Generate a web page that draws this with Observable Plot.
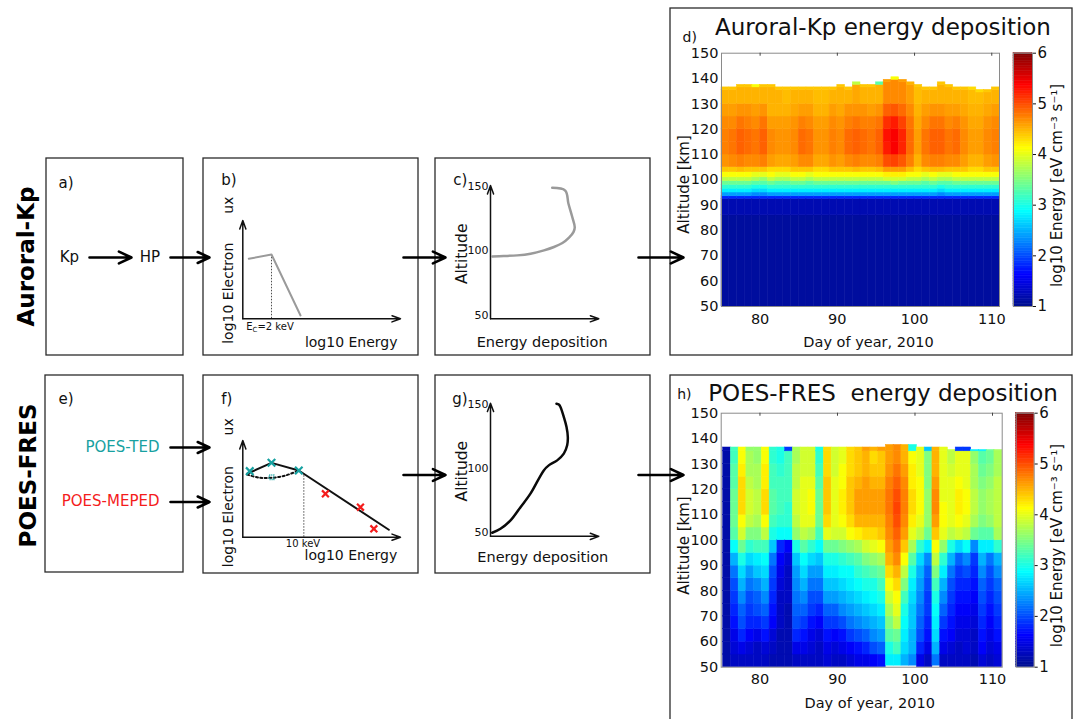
<!DOCTYPE html>
<html><head><meta charset="utf-8">
<script src="https://cdn.jsdelivr.net/npm/d3@7"></script>
<script src="https://cdn.jsdelivr.net/npm/@observablehq/plot@0.6"></script>
<style>
html,body{margin:0;padding:0;background:#fff;}
#fig{position:relative;width:1079px;height:719px;overflow:hidden;font-family:"DejaVu Sans",sans-serif;}
#fig svg{position:absolute;overflow:visible;max-width:none;}
</style></head><body><div id="fig"></div>
<script>
// ---------------- DATA ----------------
const days = [75,76,77,78,79,80,81,82,83,84,85,86,87,88,89,90,91,92,93,94,95,96,97,98,99,100,101,102,103,104,105,106,107,108,109,110];

// Panel d (Auroral-Kp) : altitude band edges, column tops, per-day band values (log10 energy)
const dEdges = [50,86,92.5,93.5,95,96.5,98,99.5,101,103,105,110,115,120,125,130]; // + [top-1, top]
const dTop = [136.5,136.5,137.5,137.5,137.5,137.5,137.5,136.5,136.5,136.5,136.5,136.5,136.5,136.5,136.5,137.5,136.5,138.5,137.5,137.5,138.5,139.5,140.5,139.5,138.5,137.5,136.5,136.5,138.5,137.5,136.5,136.5,136.5,135.5,135.5,136.5];
const dCols = [
[1.1,1.2,1.8,2.4,2.8,3.1,3.4,3.8,4.1,4.4,4.65,4.75,4.75,4.7,4.6,4.5,4.4],
[1.1,1.2,1.8,2.4,2.8,3.1,3.4,3.8,4.1,4.4,4.7,4.8,4.8,4.7,4.6,4.5,4.4],
[1.1,1.2,1.8,2.4,2.8,3.1,3.4,3.8,4.1,4.45,4.75,4.9,4.9,4.8,4.65,4.5,4.4],
[1.1,1.2,1.8,2.4,2.8,3.1,3.4,3.8,4.1,4.4,4.7,4.85,4.85,4.75,4.65,4.5,4.4],
[1.1,1.2,1.8,2.3,2.7,3.0,3.3,3.7,4.0,4.4,4.7,4.8,4.8,4.7,4.6,4.5,4.1],
[1.1,1.2,1.8,2.3,2.7,3.0,3.3,3.6,4.0,4.4,4.75,4.9,4.9,4.8,4.65,4.5,4.4],
[1.1,1.2,1.8,2.4,2.8,3.1,3.4,3.8,4.1,4.3,4.6,4.7,4.7,4.6,4.5,4.5,4.4],
[1.1,1.2,1.8,2.4,2.8,3.1,3.3,3.7,4.0,4.3,4.55,4.65,4.65,4.6,4.5,4.5,4.4],
[1.1,1.2,1.8,2.4,2.8,3.1,3.3,3.7,4.0,4.3,4.55,4.65,4.65,4.6,4.5,4.45,4.4],
[1.1,1.2,1.8,2.4,2.8,3.1,3.4,3.8,4.1,4.4,4.6,4.7,4.7,4.65,4.55,4.5,4.4],
[1.1,1.2,1.8,2.4,2.8,3.1,3.4,3.8,4.1,4.4,4.7,4.85,4.85,4.75,4.6,4.5,4.4],
[1.1,1.2,1.8,2.4,2.8,3.1,3.3,3.7,4.0,4.4,4.7,4.8,4.8,4.7,4.6,4.5,4.4],
[1.1,1.2,1.8,2.4,2.8,3.1,3.4,3.8,4.1,4.3,4.55,4.65,4.65,4.6,4.5,4.45,4.4],
[1.1,1.2,1.8,2.4,2.8,3.1,3.4,3.8,4.1,4.3,4.55,4.65,4.65,4.6,4.5,4.45,4.4],
[1.1,1.2,1.8,2.4,2.8,3.1,3.4,3.8,4.1,4.4,4.65,4.75,4.75,4.7,4.6,4.5,4.4],
[1.1,1.2,1.8,2.4,2.8,3.1,3.4,3.8,4.1,4.4,4.6,4.7,4.7,4.65,4.55,4.5,4.4],
[1.1,1.2,1.8,2.4,2.8,3.1,3.4,3.8,4.1,4.4,4.7,4.85,4.85,4.75,4.65,4.5,4.4],
[1.1,1.2,1.8,2.4,2.8,3.1,3.4,3.8,4.1,4.45,4.75,4.9,4.9,4.8,4.65,4.55,3.8],
[1.1,1.2,1.8,2.4,2.8,3.1,3.4,3.8,4.1,4.4,4.7,4.85,4.85,4.75,4.65,4.5,4.4],
[1.1,1.2,1.8,2.4,2.8,3.1,3.4,3.8,4.1,4.4,4.7,4.8,4.8,4.75,4.6,4.5,4.4],
[1.1,1.2,1.8,2.4,2.8,3.1,3.4,3.8,4.1,4.45,4.75,4.9,4.9,4.8,4.65,4.5,3.3],
[1.1,1.2,1.8,2.4,2.8,3.1,3.4,3.9,4.2,4.6,5.0,5.25,5.3,5.15,4.9,4.7,4.6],
[1.1,1.2,1.8,2.4,2.8,3.1,3.5,3.9,4.2,4.6,5.05,5.4,5.4,5.25,4.95,4.7,4.1],
[1.1,1.2,1.8,2.4,2.8,3.1,3.4,3.9,4.2,4.6,4.95,5.2,5.2,5.05,4.85,4.7,4.6],
[1.1,1.2,1.8,2.4,2.8,3.1,3.4,3.8,4.1,4.45,4.75,4.85,4.85,4.8,4.7,4.6,4.5],
[1.1,1.2,1.8,2.4,2.8,3.1,3.4,3.8,4.1,4.3,4.5,4.6,4.6,4.55,4.5,4.45,4.4],
[1.1,1.2,1.8,2.4,2.8,3.1,3.3,3.7,4.0,4.4,4.7,4.8,4.8,4.7,4.6,4.5,4.4],
[1.1,1.2,1.8,2.4,2.8,3.1,3.4,3.8,4.1,4.45,4.75,4.9,4.9,4.8,4.65,4.5,4.4],
[1.1,1.2,1.8,2.3,2.7,3.0,3.3,3.7,4.0,4.45,4.75,4.9,4.9,4.8,4.65,4.5,4.4],
[1.1,1.2,1.8,2.4,2.8,3.1,3.3,3.7,4.0,4.4,4.7,4.8,4.8,4.7,4.6,4.5,4.4],
[1.1,1.2,1.8,2.4,2.8,3.1,3.4,3.8,4.1,4.4,4.7,4.85,4.85,4.75,4.6,4.5,4.4],
[1.1,1.2,1.8,2.4,2.8,3.1,3.4,3.8,4.1,4.4,4.6,4.7,4.7,4.65,4.55,4.5,4.4],
[1.1,1.2,1.8,2.4,2.8,3.1,3.4,3.8,4.1,4.3,4.5,4.6,4.6,4.55,4.5,4.45,4.3],
[1.1,1.2,1.8,2.4,2.8,3.1,3.4,3.8,4.1,4.3,4.5,4.6,4.6,4.55,4.5,4.45,4.3],
[1.1,1.2,1.8,2.4,2.8,3.1,3.4,3.8,4.1,4.4,4.6,4.7,4.7,4.65,4.55,4.5,4.4],
[1.1,1.2,1.8,2.4,2.8,3.1,3.4,3.8,4.1,4.4,4.65,4.75,4.75,4.7,4.6,4.5,4.4]
];

// Panel h (POES-FRES): 5-km bands 50..135 plus a top cell [135, top]
const hEdges = [50,55,60,65,70,75,80,85,90,95,100,105,110,115,120,125,130,135];
const hTop = [136.5,136.5,136.5,136.5,136.5,136.5,136.5,136.5,136.5,136.5,136.5,136.5,136.5,136.5,136.5,136.5,136.5,136.5,136.5,136.5,136.5,137.5,137.5,137.5,137.5,136.5,136.5,136.5,136.5,135.5,136.5,136.5,135.5,135.5,135.5,135.5];
const hBottom = [50,50,50,50,50,50,50,50,50,50,50,50,50,50,50,50,50,50,50,50,50,50.6,50.6,50.6,50.6,50,50,50.6,50,50,50,50,50,50,50,50];
const hShift = 0.25; // columns of panel h sit a quarter day to the right
const hCols = [
[1.15,1.15,1.15,1.15,1.15,1.15,1.15,1.15,1.15,1.15,1.15,1.15,1.15,1.15,1.15,1.15,1.15,1.2],
[1.3,1.4,1.5,1.7,1.8,1.9,2.0,2.2,2.5,2.9,3.3,3.4,3.4,3.4,3.3,3.3,3.2,3.2],
[1.3,1.5,1.8,2.0,2.1,2.3,2.5,2.7,3.0,3.4,3.9,4.1,4.3,4.3,4.3,4.2,4.1,4.1],
[1.3,1.4,1.6,1.8,1.9,2.0,2.2,2.4,2.7,3.1,3.5,3.8,3.9,3.9,3.8,3.7,3.7,3.6],
[1.3,1.3,1.5,1.8,2.0,2.1,2.3,2.6,2.8,3.2,3.5,3.7,3.8,3.8,3.7,3.7,3.6,3.6],
[1.3,1.4,1.7,1.9,2.1,2.3,2.5,2.7,2.9,3.2,3.8,4.1,4.3,4.3,4.2,4.2,4.1,4.1],
[1.2,1.3,1.4,1.6,1.7,1.8,1.9,2.0,2.2,2.6,3.0,3.2,3.3,3.3,3.2,3.2,3.1,3.1],
[1.2,1.2,1.2,1.3,1.3,1.3,1.4,1.5,1.6,1.8,2.9,3.1,3.2,3.2,3.2,3.1,3.0,3.0],
[1.2,1.2,1.2,1.2,1.2,1.3,1.3,1.3,1.4,1.6,2.9,3.1,3.1,3.2,3.2,3.2,3.2,1.9],
[1.3,1.5,1.8,2.0,2.1,2.2,2.3,2.4,2.6,3.0,3.6,3.8,3.9,3.9,3.8,3.8,3.7,3.7],
[1.3,1.5,1.7,1.9,2.1,2.3,2.5,2.7,2.9,3.3,3.8,4.0,4.0,4.0,4.0,3.9,3.9,3.9],
[1.3,1.4,1.5,1.7,1.9,2.0,2.2,2.4,2.7,3.1,3.7,4.0,4.1,4.1,4.0,3.9,3.9,3.9],
[1.3,1.3,1.4,1.6,1.8,2.0,2.2,2.4,2.6,2.9,3.2,3.4,3.4,3.4,3.3,3.2,3.1,3.0],
[1.4,1.5,1.7,1.9,2.1,2.4,2.6,2.8,3.0,3.4,4.0,4.3,4.4,4.4,4.4,4.3,4.3,4.3],
[1.3,1.4,1.6,1.9,2.1,2.4,2.6,2.8,3.0,3.4,3.9,4.0,4.0,4.0,4.0,3.9,3.9,3.9],
[1.3,1.5,1.7,2.0,2.3,2.5,2.7,2.9,3.1,3.5,3.9,4.1,4.2,4.2,4.1,4.1,4.0,4.0],
[1.4,1.6,1.9,2.2,2.4,2.6,2.8,2.9,3.2,3.6,4.1,4.3,4.4,4.4,4.4,4.3,4.3,4.3],
[1.5,1.7,2.0,2.3,2.5,2.7,2.9,3.1,3.3,3.7,4.2,4.5,4.6,4.6,4.5,4.4,4.4,4.4],
[1.5,1.8,2.1,2.4,2.6,2.8,3.0,3.2,3.5,3.9,4.3,4.5,4.6,4.6,4.6,4.5,4.5,4.6],
[1.6,2.0,2.3,2.5,2.7,2.9,3.0,3.3,3.6,4.0,4.3,4.5,4.6,4.6,4.5,4.4,4.3,4.5],
[1.7,2.1,2.4,2.6,2.8,3.0,3.2,3.4,3.7,4.1,4.4,4.5,4.6,4.6,4.5,4.4,4.4,4.6],
[2.8,3.0,3.3,3.5,3.7,3.9,4.1,4.3,4.5,4.6,4.7,4.75,4.8,4.8,4.75,4.65,4.6,4.6],
[2.8,3.2,3.4,3.8,4.0,4.1,4.3,4.5,4.7,4.8,4.9,5.0,5.05,5.0,4.9,4.8,4.7,4.7],
[2.5,2.7,2.8,2.9,3.0,3.2,3.5,3.8,4.1,4.4,4.6,4.7,4.75,4.75,4.7,4.6,4.5,4.5],
[2.3,2.5,2.5,2.6,2.6,2.7,2.8,3.0,3.3,3.7,4.0,4.2,4.3,4.3,4.2,4.2,4.1,3.0],
[1.5,1.8,2.0,2.1,2.2,2.3,2.4,2.5,2.7,3.1,3.8,4.0,4.1,4.1,4.1,4.0,4.0,4.0],
[1.3,1.5,1.7,1.8,1.9,1.9,2.0,2.1,2.3,2.8,3.4,3.6,3.6,3.6,3.5,3.5,3.5,2.6],
[2.2,2.5,2.7,2.8,2.9,3.0,3.2,3.5,3.8,4.1,4.4,4.6,4.7,4.7,4.6,4.5,4.5,4.5],
[1.3,1.5,1.7,1.9,2.1,2.3,2.5,2.8,3.1,3.6,4.0,4.1,4.1,4.0,4.0,4.0,4.0,4.0],
[1.3,1.4,1.6,1.7,1.8,1.9,2.0,2.2,2.5,3.0,3.8,4.0,4.0,4.0,4.0,3.9,3.8,3.8],
[1.3,1.3,1.4,1.5,1.6,1.7,1.8,1.9,2.1,2.7,3.9,4.1,4.2,4.2,4.1,4.0,4.0,1.9],
[1.3,1.4,1.4,1.5,1.6,1.7,1.8,2.0,2.3,2.9,3.8,4.0,4.1,4.1,4.0,4.0,4.0,1.9],
[1.2,1.3,1.3,1.4,1.5,1.6,1.7,1.8,1.9,2.3,3.4,3.7,3.8,3.8,3.7,3.7,3.6,2.8],
[1.4,1.6,1.7,1.8,1.9,2.0,2.1,2.3,2.5,2.8,3.3,3.5,3.6,3.6,3.5,3.4,3.3,2.8],
[1.3,1.4,1.5,1.6,1.7,1.8,1.9,2.0,2.2,2.8,3.3,3.6,3.7,3.7,3.6,3.5,3.4,3.4],
[1.4,1.5,1.7,1.8,1.9,2.0,2.1,2.3,2.5,3.1,3.7,3.8,3.8,3.8,3.8,3.7,3.7,3.7]
];

const altTicks = [50,60,70,80,90,100,110,120,130,140,150];
const dayTicks = [80,90,100,110];
const cbTicks = [1,2,3,4,5,6];
const cbLabel = "log10 Energy [eV cm\u207B\u00B3 s\u207B\u00B9]";

// Schematic curves (arbitrary axis units)
const bSpectrum = [{x:0.038,y:0.610},{x:0.182,y:0.654},{x:0.366,y:0.034}];
const bBreak = [{x:0.182,y:0.654}];
const fFit = [{x:0.028,y:0.656},{x:0.182,y:0.769},{x:0.355,y:0.690},{x:0.926,y:0.077}];
const fDotted = [{x:0.028,y:0.648},{x:0.100,y:0.617},{x:0.182,y:0.614},{x:0.271,y:0.638},{x:0.355,y:0.690}];
const fBreak = [{x:0.387,y:0.656}];
const tedPoints = [{x:0.044,y:0.683},{x:0.182,y:0.769},{x:0.355,y:0.690}];
const tedAlt = [{x:0.182,y:0.620}];
const mepedPoints = [{x:0.524,y:0.449},{x:0.746,y:0.310},{x:0.831,y:0.087}];
const cProfile = [{e:0.57,alt:149.8},{e:0.69,alt:147.7},{e:0.72,alt:137.4},{e:0.755,alt:127.1},{e:0.778,alt:119.2},{e:0.766,alt:115.4},{e:0.725,alt:111.1},{e:0.664,alt:106.9},{e:0.586,alt:103.8},{e:0.494,alt:101.2},{e:0.370,alt:98.6},{e:0.247,alt:97.3},{e:0.123,alt:96.8},{e:0.016,alt:96.5}];
const gProfile = [{e:0.016,alt:50.8},{e:0.092,alt:53.9},{e:0.185,alt:60.4},{e:0.277,alt:70.7},{e:0.369,alt:81.2},{e:0.492,alt:99.3},{e:0.538,alt:103.2},{e:0.616,alt:107.1},{e:0.677,alt:112.3},{e:0.708,alt:118.8},{e:0.714,alt:125.2},{e:0.702,alt:133.0},{e:0.677,alt:140.8},{e:0.646,alt:148.6},{e:0.631,alt:150.5},{e:0.609,alt:151.2}];
const schemAltTicks = [50,100,150];

// Diagram layout (page pixels)
const boxes = [
 {x1:46,y1:158,x2:183,y2:355},{x1:203,y1:158,x2:418,y2:355},{x1:435,y1:158,x2:650,y2:355},{x1:670,y1:8,x2:1072,y2:355},
 {x1:45,y1:375,x2:183,y2:572},{x1:203,y1:375,x2:418,y2:573},{x1:435,y1:375,x2:650,y2:573},{x1:670,y1:375,x2:1072,y2:740}
];
const links = [
 {x1:89,y1:257,x2:131,y2:257},{x1:170,y1:257,x2:209,y2:257},{x1:403,y1:257,x2:445,y2:257},{x1:638,y1:257,x2:683,y2:257},
 {x1:170,y1:447,x2:209,y2:447},{x1:170,y1:501.5,x2:209,y2:501.5},{x1:403,y1:474.5,x2:445,y2:474.5},{x1:638,y1:474.5,x2:683,y2:474.5}
];
const rowTitles = [{text:"Auroral-Kp",x:26.5,y:256},{text:"POES-FRES",x:28.5,y:475}];
const panelTags = [{text:"a)",x:58,y:182.5},{text:"e)",x:58,y:399}];
const flowNodes = [{text:"Kp",x:68.8,y:257},{text:"HP",x:149.3,y:257}];
const tedLabel = [{text:"POES-TED",x:159,y:447}];
const mepedLabel = [{text:"POES-MEPED",x:159,y:501}];

// ---------------- DRAWING ----------------
const fig = document.getElementById("fig");
const FONT = "DejaVu Sans";
const TEAL = "#17a1a1", RED = "#f41c1c";
const baseStyle = {fontFamily: FONT, fontSize: "14.5px", background: "transparent", overflow: "visible", color: "#111"};
function mount(svg, left, top) {
  svg.style.position = "absolute"; svg.style.left = left + "px"; svg.style.top = top + "px";
  svg.style.maxWidth = "none"; svg.style.overflow = "visible"; svg.style.background = "transparent";
  fig.appendChild(svg); return svg;
}
const jet = {type: "linear", domain: [1, 1.625, 2.875, 4.125, 5.375, 6],
  range: ["#00108c", "#0000ff", "#00ffff", "#ffff00", "#ff0000", "#800000"], interpolate: "rgb", clamp: true};

// Overlay: boxes, arrows, row titles, a) / e)
mount(Plot.plot({
  width: 1079, height: 719, margin: 0,
  x: {domain: [0, 1079], range: [0, 1079], axis: null},
  y: {domain: [0, 719], range: [0, 719], axis: null},
  style: baseStyle,
  marks: [
    Plot.rect(boxes, {x1: "x1", x2: "x2", y1: "y1", y2: "y2", fill: "white", stroke: "#2b2b2b", strokeWidth: 1.3}),
    Plot.arrow(links, {x1: "x1", y1: "y1", x2: "x2", y2: "y2", stroke: "black", strokeWidth: 2.6, headLength: 8, headAngle: 50}),
    Plot.text(rowTitles, {x: "x", y: "y", text: "text", rotate: -90, fontSize: 23, fontWeight: "bold", fill: "black"}),
    Plot.text(panelTags, {x: "x", y: "y", text: "text", textAnchor: "start", fontSize: 15, fill: "#111"}),
    Plot.text(flowNodes, {x: "x", y: "y", text: "text", fontSize: 15, fill: "#111"}),
    Plot.text(tedLabel, {x: "x", y: "y", text: "text", textAnchor: "end", fontSize: 15, fill: TEAL}),
    Plot.text(mepedLabel, {x: "x", y: "y", text: "text", textAnchor: "end", fontSize: 15, fill: RED})
  ]
}), 0, 0);

const axesArrows = [{x1:0,y1:0,x2:0,y2:1},{x1:0,y1:0,x2:1,y2:0}];

// b) spectrum schematic
const bSvg = mount(Plot.plot({
  width: 215, height: 197, margin: 0,
  x: {domain: [0, 1], range: [39.3, 197], axis: null},
  y: {domain: [0, 1], range: [160.3, 62], axis: null},
  style: baseStyle,
  marks: [
    Plot.ruleX(bBreak, {x: "x", y1: 0, y2: "y", stroke: "#222", strokeWidth: 0.8, strokeDasharray: "1.5,1.5"}),
    Plot.line(bSpectrum, {x: "x", y: "y", stroke: "#9a9a9a", strokeWidth: 2}),
    Plot.arrow(axesArrows, {x1: "x1", y1: "y1", x2: "x2", y2: "y2", stroke: "#111", strokeWidth: 1.5, headLength: 9, headAngle: 40}),
    Plot.text([{x:-0.137,y:1.407,t:"b)"}], {x: "x", y: "y", text: "t", textAnchor: "start", fontSize: 15}),
    Plot.text([{x:-0.0888,y:-0.254,t:"log10 Electron"},{x:-0.0888,y:1.068,t:"ux"}], {x: "x", y: "y", text: "t", rotate: -90, textAnchor: "start", fontSize: 14}),
    Plot.text([{x:0.981,y:-0.241,t:"log10 Energy"}], {x: "x", y: "y", text: "t", textAnchor: "end", fontSize: 14}),
    Plot.text([{x:0.0216,y:-0.078,t:"EC=2 keV"}], {x: "x", y: "y", text: "t", textAnchor: "start", fontSize: 10})
  ]
}), 203, 158);
bSvg.querySelectorAll("text").forEach(t => {
  if (t.textContent === "EC=2 keV") {
    const NS = "http://www.w3.org/2000/svg";
    t.textContent = "E";
    const s1 = document.createElementNS(NS, "tspan"); s1.setAttribute("font-size", "7"); s1.setAttribute("dy", "2.5"); s1.textContent = "C";
    const s2 = document.createElementNS(NS, "tspan"); s2.setAttribute("dy", "-2.5"); s2.textContent = "=2 keV";
    t.appendChild(s1); t.appendChild(s2);
  }
});

// f) spectrum schematic
mount(Plot.plot({
  width: 215, height: 198, margin: 0,
  x: {domain: [0, 1], range: [39.3, 197], axis: null},
  y: {domain: [0, 1], range: [161.7, 65], axis: null},
  style: baseStyle,
  marks: [
    Plot.ruleX(fBreak, {x: "x", y1: 0, y2: "y", stroke: "#222", strokeWidth: 0.8, strokeDasharray: "1.5,1.5"}),
    Plot.line(fDotted, {x: "x", y: "y", stroke: "#111", strokeWidth: 2, strokeDasharray: "2,2.5", curve: "catmull-rom"}),
    Plot.line(fFit, {x: "x", y: "y", stroke: "#111", strokeWidth: 2}),
    Plot.dot(tedAlt, {x: "x", y: "y", symbol: "square", r: 2.5, stroke: TEAL, strokeWidth: 1.5, strokeDasharray: "1,1"}),
    Plot.dot(tedPoints, {x: "x", y: "y", symbol: "times", r: 3.5, stroke: TEAL, strokeWidth: 2.2}),
    Plot.dot(mepedPoints, {x: "x", y: "y", symbol: "times", r: 3.2, stroke: RED, strokeWidth: 2.2}),
    Plot.arrow(axesArrows, {x1: "x1", y1: "y1", x2: "x2", y2: "y2", stroke: "#111", strokeWidth: 1.5, headLength: 9, headAngle: 40}),
    Plot.text([{x:-0.137,y:1.424,t:"f)"}], {x: "x", y: "y", text: "t", textAnchor: "start", fontSize: 15}),
    Plot.text([{x:-0.0888,y:-0.310,t:"log10 Electron"},{x:-0.0888,y:1.052,t:"ux"}], {x: "x", y: "y", text: "t", rotate: -90, textAnchor: "start", fontSize: 14}),
    Plot.text([{x:0.979,y:-0.194,t:"log10 Energy"}], {x: "x", y: "y", text: "t", textAnchor: "end", fontSize: 14}),
    Plot.text([{x:0.382,y:-0.068,t:"10 keV"}], {x: "x", y: "y", text: "t", fontSize: 10})
  ]
}), 203, 375);

// c) and g) deposition profiles
function profilePlot(profile, color, width, yRange, tag, tagPos, altPos, edPos) {
  return Plot.plot({
    width: 215, height: 198, margin: 0,
    x: {domain: [0, 1], range: [55, 163.3], axis: null},
    y: {domain: [50, 150], range: yRange, axis: null},
    style: baseStyle,
    marks: [
      Plot.arrow([{x1:0,y1:48,x2:0,y2:151.6},{x1:0,y1:48,x2:1,y2:48}], {x1: "x1", y1: "y1", x2: "x2", y2: "y2", stroke: "#111", strokeWidth: 1.5, headLength: 9, headAngle: 40}),
      Plot.line(profile, {x: "e", y: "alt", stroke: color, strokeWidth: width, curve: "catmull-rom"}),
      Plot.text(schemAltTicks, {x: 0, y: d => d, text: d => String(d), textAnchor: "end", dx: -2, dy: -1, fontSize: 11}),
      Plot.text([tagPos], {x: "x", y: "y", text: () => tag, textAnchor: "start", fontSize: 15}),
      Plot.text([altPos], {x: "x", y: "y", text: () => "Altitude", rotate: -90, fontSize: 15.5}),
      Plot.text([edPos], {x: "x", y: "y", text: () => "Energy deposition", fontSize: 14.5})
    ]
  });
}
mount(profilePlot(cProfile, "#9a9a9a", 2.5, [157.7, 29.1], "c)", {x:-0.344,y:155.5}, {x:-0.261,y:98.5}, {x:0.477,y:29.8}), 435, 158);
mount(profilePlot(gProfile, "#0a0a0a", 2.5, [158.3, 29.7], "g)", {x:-0.354,y:155}, {x:-0.259,y:98.7}, {x:0.483,y:31.8}), 435, 375);

// Heatmap cells
const dCells = [];
days.forEach((day, i) => {
  const edges = [...dEdges, dTop[i] - 1, dTop[i]];
  dCols[i].forEach((v, j) => dCells.push({x1: day, x2: day + 1, y1: edges[j], y2: edges[j + 1], v}));
});
const hCells = [];
days.forEach((day, i) => {
  const edges = [hBottom[i], ...hEdges.slice(1), hTop[i]];
  hCols[i].forEach((v, j) => hCells.push({x1: Math.max(75, day + hShift), x2: day + 1 + hShift, y1: edges[j], y2: edges[j + 1], v}));
});

function heatmap(cells, xMax, dims, title, tag, t) {
  return Plot.plot({
    width: dims.w, height: dims.h, marginLeft: dims.l, marginRight: dims.r, marginTop: dims.t, marginBottom: dims.b,
    x: {domain: [75, xMax]}, y: {domain: [50, 150]},
    color: jet,
    style: baseStyle,
    marks: [
      Plot.rect(cells, {x1: "x1", x2: "x2", y1: "y1", y2: "y2", fill: "v", stroke: "v", strokeWidth: 0.5}),
      Plot.frame({stroke: "#8a8a8a", strokeWidth: 1}),
      Plot.ruleX(dayTicks, {y1: 150, y2: 148.8, stroke: "#444"}),
      Plot.axisY(altTicks, {tickSize: 0, tickPadding: 3, fontSize: 14.5, label: null}),
      Plot.axisX(dayTicks, {tickSize: 0, tickPadding: 7, fontSize: 14.5, label: null}),
      Plot.text([title], {text: d => d, frameAnchor: "top", textAnchor: "middle", dx: t.tdx, dy: t.tdy, fontSize: 23, lineAnchor: "middle"}),
      Plot.text([tag], {text: d => d, frameAnchor: "top-left", textAnchor: "start", dx: t.gdx, dy: t.gdy, fontSize: 14}),
      Plot.text(["Day of year, 2010"], {text: d => d, frameAnchor: "bottom", textAnchor: "middle", dx: 8, dy: t.xdy, fontSize: 14.5, lineAnchor: "middle"}),
      Plot.text(["Altitude [km]"], {text: d => d, frameAnchor: "left", textAnchor: "middle", rotate: -90, dx: -37, dy: t.ydy, fontSize: 15, lineAnchor: "middle"})
    ]
  });
}
function colorbar(dims, ldx, ldy) {
  const steps = d3.range(1, 6, 0.05);
  return Plot.plot({
    width: dims.w, height: dims.h, marginLeft: dims.l, marginRight: dims.r, marginTop: dims.t, marginBottom: dims.b,
    x: {domain: [0, 1], axis: null}, y: {domain: [1, 6]},
    color: jet,
    style: baseStyle,
    marks: [
      Plot.rect(steps, {x1: 0, x2: 1, y1: d => d, y2: d => d + 0.05, fill: d => d + 0.025, stroke: d => d + 0.025, strokeWidth: 0.5}),
      Plot.frame({stroke: "#8a8a8a"}),
      Plot.axisY(cbTicks, {anchor: "right", tickSize: 3, tickPadding: 2, fontSize: 15, label: null, tickFormat: d => String(d)}),
      Plot.text([cbLabel], {text: d => d, frameAnchor: "right", textAnchor: "middle", rotate: -90, dx: ldx, dy: ldy, fontSize: 15, lineAnchor: "middle"})
    ]
  });
}

mount(heatmap(dCells, 111, {w: 340, h: 360, l: 51, r: 11, t: 52.7, b: 54}, "Auroral-Kp energy deposition", "d)",
  {tdx: 22.5, tdy: -25.3, gdx: -39, gdy: -21, xdy: 35.7, ydy: 4.6}), 670, 0);
mount(colorbar({w: 74, h: 360, l: 8, r: 47, t: 52.7, b: 54}, 25, 5.6), 1005, 0);

mount(heatmap(hCells, 111.25, {w: 340, h: 349, l: 50.7, r: 8.3, t: 42.7, b: 52.3}, "POES-FRES  energy deposition", "h)",
  {tdx: 21.3, tdy: -19.5, gdx: -44, gdy: -23.7, xdy: 36.6, ydy: 5.3}), 670, 370);
mount(colorbar({w: 74, h: 349, l: 10.7, r: 45.3, t: 42.7, b: 52.3}, 23, 5.3), 1005, 370);
</script></body></html>
